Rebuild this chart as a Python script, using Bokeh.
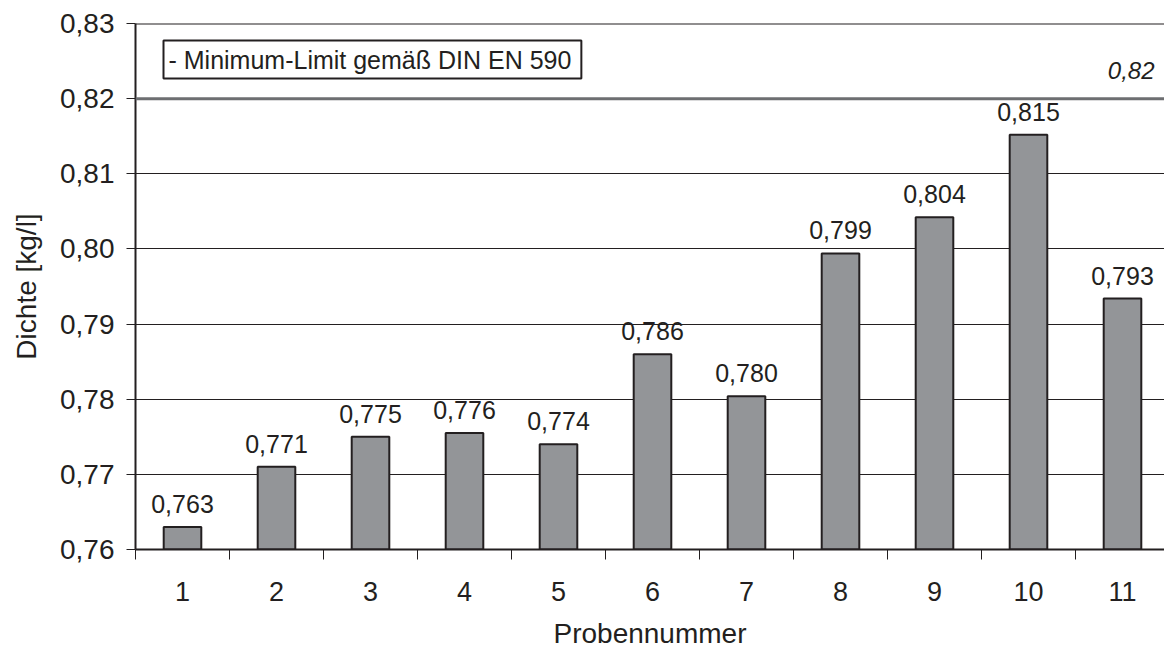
from bokeh.plotting import figure
from bokeh.models import (Range1d, FixedTicker, CustomJSTickFormatter, Span, Label,
                          ColumnDataSource)
from bokeh.embed import file_html
from bokeh.resources import INLINE

# ---- data ----
samples = [1, 2, 3, 4, 5, 6, 7, 8, 9, 10, 11]
density = [0.763, 0.771, 0.775, 0.7755, 0.774, 0.786, 0.7804, 0.7994, 0.8042, 0.8152, 0.7934]
density_labels = ["0,763", "0,771", "0,775", "0,776", "0,774", "0,786", "0,780",
                  "0,799", "0,804", "0,815", "0,793"]
y_ticks = [0.76, 0.77, 0.78, 0.79, 0.80, 0.81, 0.82, 0.83]
limit_value = 0.82
limit_text = "0,82"
legend_text = "- Minimum-Limit gemäß DIN EN 590"
x_title = "Probennummer"
y_title = "Dichte [kg/l]"

# ---- layout ----
FONT = "Liberation Sans"
INK = "#231f20"
W, H = 1164, 651
left_b, top_b, bottom_b = 135, 23, 101
cat_px = 94.0
frame_w = W - left_b
x_end = 0.5 + frame_w / cat_px

p = figure(width=W, height=H, output_backend="svg", toolbar_location=None,
           x_range=Range1d(0.5, x_end), y_range=Range1d(y_ticks[0], y_ticks[-1]),
           min_border_left=left_b, min_border_right=0, min_border_top=top_b,
           min_border_bottom=bottom_b)
p.outline_line_color = None
p.background_fill_color = "white"
p.border_fill_color = "white"

# grids
p.xgrid.visible = False
p.ygrid.ticker = FixedTicker(ticks=y_ticks)
p.ygrid.grid_line_color = INK
p.ygrid.grid_line_width = 1

# y axis
ya = p.yaxis[0]
ya.ticker = FixedTicker(ticks=y_ticks)
ya.formatter = CustomJSTickFormatter(code="return tick.toFixed(2).replace('.', ',')")
ya.axis_line_color = INK
ya.axis_line_width = 2
ya.major_tick_out = 9
ya.major_tick_in = 0
ya.major_tick_line_color = INK
ya.minor_tick_line_color = None
ya.major_label_text_font = FONT
ya.major_label_text_font_size = "28px"
ya.major_label_text_color = INK
ya.major_label_standoff = 12
ya.axis_label = y_title
ya.axis_label_text_font = FONT
ya.axis_label_text_font_size = "28px"
ya.axis_label_text_font_style = "normal"
ya.axis_label_text_color = INK
ya.axis_label_standoff = 15

# x axis
xa = p.xaxis[0]
xa.ticker = FixedTicker(ticks=samples, minor_ticks=[s - 0.5 for s in samples] + [samples[-1] + 0.5])
xa.axis_line_color = INK
xa.axis_line_width = 2
xa.major_tick_out = 0
xa.major_tick_in = 0
xa.minor_tick_out = 10
xa.minor_tick_in = 0
xa.minor_tick_line_color = INK
xa.minor_tick_line_width = 1
xa.major_label_text_font = FONT
xa.major_label_text_font_size = "27px"
xa.major_label_text_color = INK
xa.major_label_standoff = 22
xa.axis_label = x_title
xa.axis_label_text_font = FONT
xa.axis_label_text_font_size = "28px"
xa.axis_label_text_font_style = "normal"
xa.axis_label_text_color = INK
xa.axis_label_standoff = 14

# top border and limit line
p.add_layout(Span(location=y_ticks[-1], dimension="width", line_color=INK, line_width=2))
p.add_layout(Span(location=limit_value, dimension="width", line_color="#6d6e71", line_width=3))

# bars
src = ColumnDataSource(dict(x=samples, top=density, lab=density_labels))
p.vbar(x="x", top="top", bottom=y_ticks[0], width=0.4, source=src,
       fill_color="#939598", line_color=INK, line_width=2)
p.text(x="x", y="top", text="lab", source=src, text_align="center",
       text_baseline="alphabetic", y_offset=-23, text_font_size="25px",
       text_color=INK, text_font={"value": FONT})

# limit value label
p.add_layout(Label(x=x_end, y=limit_value, text=limit_text, x_offset=-10, y_offset=28,
                   text_align="right", text_baseline="alphabetic",
                   text_font=FONT, text_font_size="24px", text_font_style="italic",
                   text_color=INK))

# legend box
p.add_layout(Label(x=28, y=509, x_units="screen", y_units="screen", text=legend_text,
                   text_align="left", text_baseline="top",
                   text_font=FONT, text_font_size="25px", text_color=INK,
                   border_line_color=INK, border_line_width=2,
                   background_fill_color="white", padding=(5, 10, 5, 5)))

open("out.html", "w").write(file_html(p, INLINE))
